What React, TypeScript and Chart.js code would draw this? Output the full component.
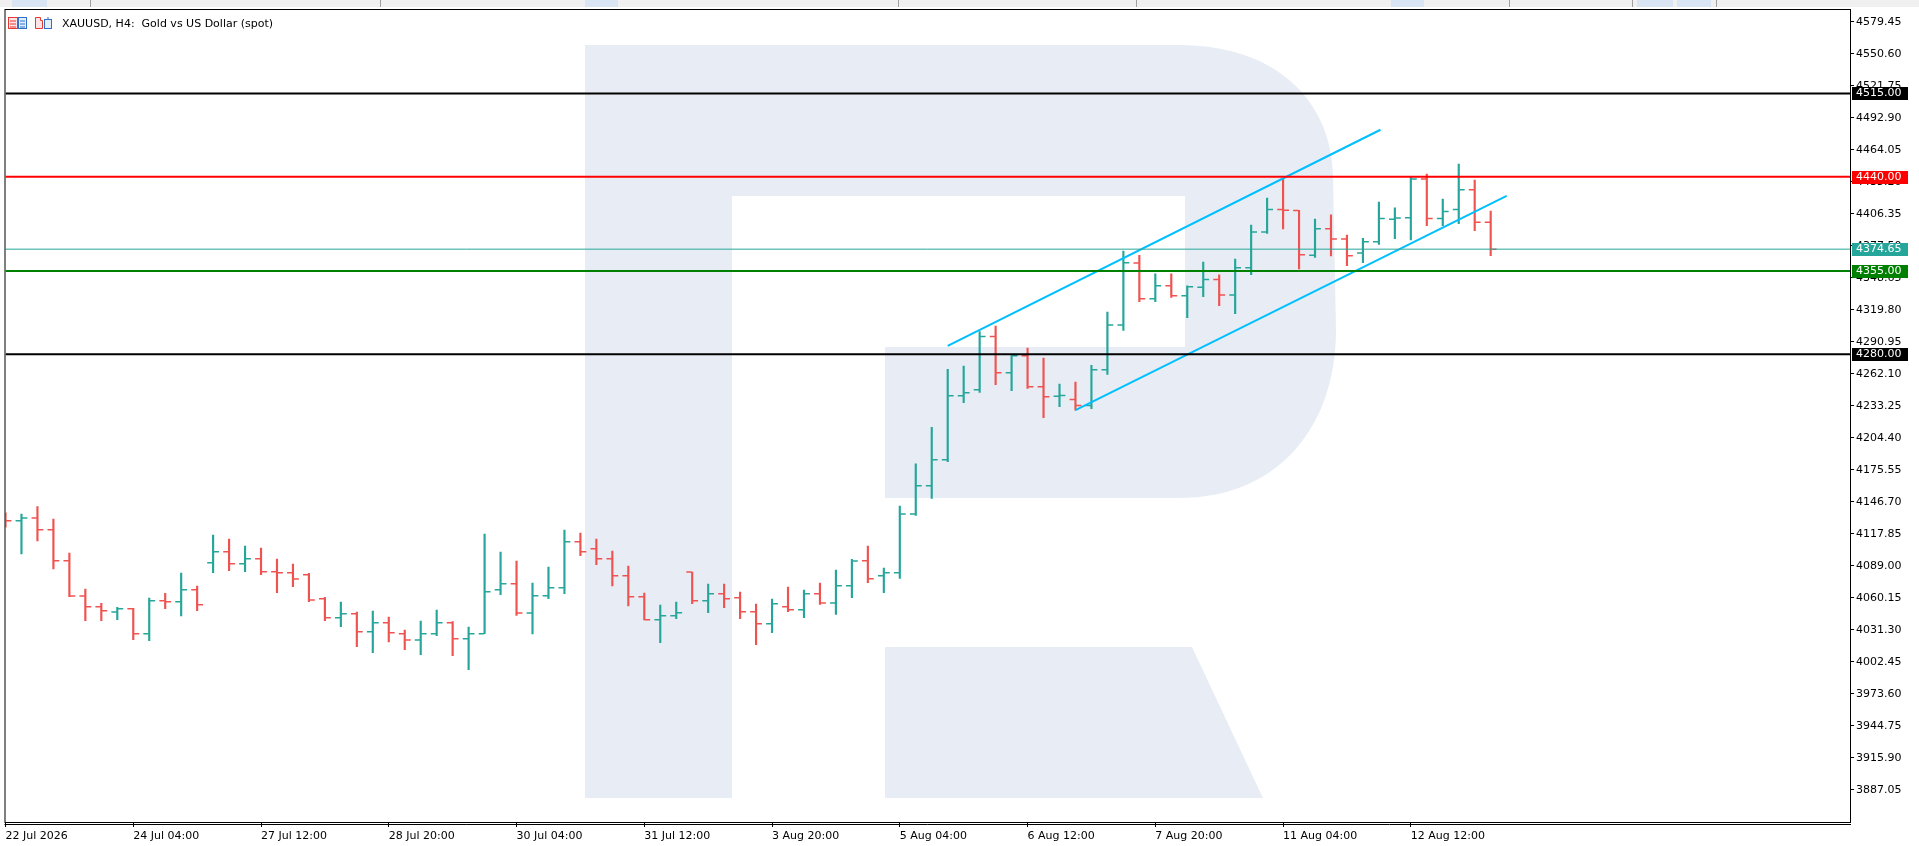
import { useEffect, useRef } from 'react';
import { Chart, registerables } from 'chart.js';

Chart.register(...registerables);

// XAUUSD H4 bars, from 22 Jul 2026 20:00 to 12 Aug 2026
const opens = [
  4133.0, 4129.9, 4132.3, 4121.7, 4093.8, 4061.9, 4052.3, 4047.5, 4050.5, 4028.0,
  4057.7, 4056.8, 4067.6, 4092.0, 4101.9, 4091.1, 4095.6, 4083.9, 4083.0, 4081.2,
  4059.5, 4042.4, 4046.0, 4029.8, 4037.9, 4028.0, 4022.3, 4028.0, 4037.9, 4023.5,
  4028.0, 4067.6, 4073.1, 4046.6, 4062.2, 4069.5, 4110.9, 4104.6, 4095.6, 4080.3,
  4061.3, 4040.6, 4044.2, 4083.6, 4057.7, 4064.0, 4060.4, 4047.8, 4037.0, 4052.3,
  4049.6, 4064.0, 4055.6, 4071.3, 4093.8, 4080.3, 4083.0, 4135.9, 4161.4, 4184.9,
  4242.6, 4248.0, 4295.8, 4263.3, 4278.6, 4250.7, 4242.0, 4239.0, 4233.6, 4266.0,
  4306.3, 4362.2, 4330.0, 4341.7, 4332.7, 4340.2, 4347.2, 4333.3, 4358.0, 4390.1,
  4410.3, 4409.4, 4369.1, 4393.1, 4383.8, 4371.2, 4381.4, 4401.6, 4403.0, 4437.9,
  4402.2, 4410.3, 4428.3, 4398.8,
];
const highs = [
  4137.0, 4135.9, 4142.5, 4131.4, 4100.7, 4068.3, 4055.3, 4051.7, 4050.8, 4060.1,
  4064.3, 4082.7, 4071.0, 4116.9, 4113.3, 4107.0, 4105.2, 4095.3, 4090.8, 4082.4,
  4060.7, 4056.5, 4047.5, 4048.4, 4043.0, 4031.3, 4039.4, 4049.3, 4038.8, 4034.0,
  4117.8, 4101.6, 4093.5, 4073.7, 4088.1, 4121.4, 4118.7, 4113.3, 4102.5, 4089.0,
  4064.6, 4053.8, 4056.5, 4083.6, 4072.8, 4072.8, 4065.5, 4054.7, 4059.2, 4070.1,
  4067.4, 4073.7, 4085.4, 4095.0, 4107.0, 4087.2, 4143.1, 4181.0, 4214.0, 4266.3,
  4269.3, 4300.3, 4305.4, 4278.6, 4285.5, 4276.5, 4253.1, 4254.9, 4269.9, 4318.0,
  4373.0, 4369.1, 4352.3, 4352.3, 4341.7, 4363.1, 4351.4, 4365.8, 4396.4, 4420.8,
  4438.5, 4409.7, 4401.8, 4405.5, 4387.4, 4384.4, 4417.2, 4411.8, 4439.4, 4442.4,
  4419.9, 4451.4, 4437.0, 4409.0,
];
const lows = [
  4124.0, 4099.8, 4111.5, 4086.3, 4061.3, 4039.7, 4039.7, 4040.6, 4022.6, 4021.7,
  4050.5, 4043.9, 4048.7, 4083.0, 4084.8, 4083.9, 4081.2, 4064.9, 4070.4, 4056.8,
  4039.7, 4034.3, 4016.3, 4010.9, 4020.5, 4013.6, 4009.1, 4026.2, 4008.2, 3995.5,
  4028.0, 4063.1, 4044.5, 4027.7, 4059.5, 4064.0, 4098.3, 4090.2, 4071.0, 4052.9,
  4040.3, 4019.9, 4041.5, 4055.0, 4046.9, 4051.4, 4041.5, 4018.1, 4028.9, 4047.8,
  4042.4, 4054.4, 4045.4, 4060.4, 4074.0, 4065.0, 4077.9, 4134.7, 4150.0, 4183.1,
  4236.3, 4245.6, 4252.5, 4247.1, 4249.2, 4222.7, 4232.6, 4229.6, 4230.9, 4261.8,
  4301.5, 4327.3, 4327.3, 4331.2, 4312.9, 4331.8, 4323.7, 4316.5, 4351.6, 4388.9,
  4392.8, 4356.8, 4367.3, 4368.5, 4359.8, 4362.5, 4379.0, 4384.1, 4382.9, 4395.8,
  4395.8, 4397.6, 4391.3, 4368.8,
];
const closes = [
  4129.9, 4132.3, 4121.7, 4093.8, 4061.9, 4052.3, 4048.7, 4050.5, 4028.0, 4057.7,
  4056.8, 4067.6, 4054.1, 4101.9, 4091.1, 4095.6, 4083.9, 4083.0, 4077.3, 4058.3,
  4042.4, 4046.0, 4029.8, 4037.9, 4028.9, 4022.3, 4028.0, 4037.9, 4023.5, 4028.0,
  4065.8, 4073.1, 4046.6, 4062.2, 4069.5, 4110.9, 4101.9, 4095.6, 4080.3, 4061.3,
  4040.6, 4044.2, 4046.9, 4057.7, 4064.0, 4059.5, 4047.8, 4037.0, 4055.0, 4049.6,
  4064.0, 4055.6, 4071.3, 4093.5, 4077.6, 4083.0, 4135.9, 4161.4, 4184.9, 4242.6,
  4245.3, 4295.8, 4263.3, 4278.6, 4250.7, 4241.7, 4242.8, 4233.6, 4266.0, 4306.3,
  4362.5, 4330.0, 4341.7, 4332.7, 4340.8, 4347.2, 4333.3, 4358.0, 4390.1, 4410.3,
  4409.7, 4369.7, 4393.1, 4383.8, 4368.8, 4381.4, 4402.2, 4402.8, 4437.9, 4402.2,
  4408.5, 4428.3, 4398.8, 4374.65,
];

// time axis labels, placed on bar indexes
const xTickBars = [0, 8, 16, 24, 32, 40, 48, 56, 64, 72, 80, 88];
const xTickLabels = [
  '22 Jul 2026', '24 Jul 04:00', '27 Jul 12:00', '28 Jul 20:00', '30 Jul 04:00', '31 Jul 12:00',
  '3 Aug 20:00', '5 Aug 04:00', '6 Aug 12:00', '7 Aug 20:00', '11 Aug 04:00', '12 Aug 12:00',
];

const yTicks = [
  4579.45, 4550.6, 4521.75, 4492.9, 4464.05, 4435.2, 4406.35, 4377.5, 4348.65, 4319.8,
  4290.95, 4262.1, 4233.25, 4204.4, 4175.55, 4146.7, 4117.85, 4089.0, 4060.15, 4031.3,
  4002.45, 3973.6, 3944.75, 3915.9, 3887.05,
];

// horizontal levels
const levelPrices = [4515, 4440, 4374.65, 4355, 4280];
const levelColors = ['#000000', '#ff0000', '#26a69a', '#008000', '#000000'];
const levelWidths = [2, 2, 1, 2, 2];

// ascending channel (bar index, price)
const upperChannelX = [59.0, 86.1];
const upperChannelY = [4287.4, 4482.3];
const lowerChannelX = [67.0, 94.0];
const lowerChannelY = [4229.6, 4422.6];

const UP = '#26a69a';
const DOWN = '#ef5350';
const X_MAX = 115.5;
const Y_MIN = 3858.2;
const Y_MAX = 4591.17;

Chart.defaults.font.family = '"DejaVu Sans", sans-serif';
Chart.defaults.font.size = 11;
Chart.defaults.color = '#000';

const barColors = closes.map((c, i) => (c >= opens[i] ? UP : DOWN));

const framePlugin = {
  id: 'frame',
  afterDraw(chart: any) {
    const { ctx, chartArea: a, scales } = chart;
    ctx.save();
    ctx.strokeStyle = '#000';
    ctx.lineWidth = 1;
    ctx.strokeRect(a.left - 0.5, a.top + 0.5, a.right - a.left + 1, a.bottom - a.top);
    ctx.beginPath();
    ctx.moveTo(a.left - 1, a.bottom + 2.5);
    ctx.lineTo(a.right + 1, a.bottom + 2.5);
    ctx.stroke();

    // price labels on the axis
    ctx.font = '11px "DejaVu Sans"';
    ctx.textBaseline = 'middle';
    ctx.textAlign = 'left';
    levelPrices.forEach((p, i) => {
      const y = scales.y.getPixelForValue(p);
      ctx.fillStyle = levelColors[i];
      ctx.fillRect(a.right + 2, Math.round(y) - 6, 56, 13);
      ctx.fillStyle = '#fff';
      ctx.fillText(p.toFixed(2), a.right + 6, Math.round(y) + 0.5);
    });
    ctx.restore();
  },
};

function Watermark() {
  return (
    <svg width={1919} height={846} style={{ position: 'absolute', left: 0, top: 0 }}>
      <path
        d="M585 45 L1180 45 C1275 45 1331 100 1333 175 L1336 330 C1336 430 1275 498 1180 498 L885 498 L885 347 L1185 347 L1185 196 L732 196 L732 798 L585 798 Z"
        fill="#e8edf5"
      />
      <path d="M885 647 L1192 647 L1263 798 L885 798 Z" fill="#e8edf5" />
    </svg>
  );
}

function TopStrip() {
  const tabs = [[12, 35], [585, 33], [1391, 33], [1637, 36], [1677, 34]];
  const seps = [90, 380, 898, 1136, 1509, 1632, 1716];
  return (
    <div style={{ position: 'absolute', left: 0, top: 0, width: 1919, height: 7, background: '#f0f0f0' }}>
      {tabs.map(([x, w]) => (
        <div key={'t' + x} style={{ position: 'absolute', left: x, top: 0, width: w, height: 7, background: '#dae5f3' }} />
      ))}
      {seps.map((x) => (
        <div key={'s' + x} style={{ position: 'absolute', left: x, top: 0, width: 1, height: 7, background: '#a0a0a0' }} />
      ))}
    </div>
  );
}

function TitleBar() {
  return (
    <>
      <svg width={50} height={16} style={{ position: 'absolute', left: 6, top: 15 }}>
        <rect x={2.5} y={2.5} width={9} height={11} fill="#fde3e3" stroke="#e53935" />
        <line x1={4} y1={6} x2={10} y2={6} stroke="#e53935" />
        <line x1={4} y1={9} x2={10} y2={9} stroke="#e53935" />
        <line x1={4} y1={12} x2={10} y2={12} stroke="#e53935" />
        <rect x={12.5} y={2.5} width={8} height={11} fill="#e3eefc" stroke="#2f6fc9" />
        <line x1={14} y1={6} x2={19} y2={6} stroke="#2f6fc9" />
        <line x1={14} y1={9} x2={19} y2={9} stroke="#2f6fc9" />
        <line x1={14} y1={12} x2={19} y2={12} stroke="#2f6fc9" />
        <path d="M29.5 2.5 L34.5 2.5 L34.5 5.5 L36.5 5.5 L36.5 13.5 L29.5 13.5 Z" fill="#fde3e3" stroke="#e53935" />
        <rect x={38.5} y={4.5} width={7} height={9} fill="#e3eefc" stroke="#2f6fc9" />
        <line x1={42} y1={2} x2={42} y2={4} stroke="#2f6fc9" />
      </svg>
      <div
        style={{
          position: 'absolute',
          left: 62,
          top: 17,
          font: '11px "DejaVu Sans", sans-serif',
          lineHeight: '13px',
          color: '#000',
          whiteSpace: 'pre',
        }}
      >
        {'XAUUSD, H4:  Gold vs US Dollar (spot)'}
      </div>
    </>
  );
}

export default function App() {
  const canvasRef = useRef<HTMLCanvasElement>(null);
  const chartInstance = useRef<Chart | null>(null);

  useEffect(() => {
    if (!canvasRef.current) return;
    if (chartInstance.current) chartInstance.current.destroy();

    const levelSets: any[] = levelPrices.map((p, i) => ({
      type: 'line',
      data: [
        { x: 0, y: p },
        { x: X_MAX, y: p },
      ],
      borderColor: levelColors[i],
      borderWidth: levelWidths[i],
      pointRadius: 0,
    }));

    const channelSets: any[] = [
      [upperChannelX, upperChannelY],
      [lowerChannelX, lowerChannelY],
    ].map(([xs, ys]) => ({
      type: 'line',
      data: xs.map((x, i) => ({ x, y: ys[i] })),
      borderColor: '#00bfff',
      borderWidth: 2,
      pointRadius: 0,
    }));

    chartInstance.current = new Chart(canvasRef.current, {
      type: 'bar',
      data: {
        datasets: [
          ...levelSets,
          ...channelSets,
          {
            type: 'scatter',
            data: opens.map((o, i) => ({ x: i - 0.2, y: o })),
            pointStyle: 'line',
            pointRadius: 2.7,
            pointBorderWidth: 1.5,
            pointBorderColor: barColors,
            pointBackgroundColor: barColors,
          },
          {
            type: 'scatter',
            data: closes.map((c, i) => ({ x: i + 0.2, y: c })),
            pointStyle: 'line',
            pointRadius: 2.7,
            pointBorderWidth: 1.5,
            pointBorderColor: barColors,
            pointBackgroundColor: barColors,
          },
          {
            type: 'bar',
            data: highs.map((h, i) => ({ x: i, y: [lows[i], h] })),
            backgroundColor: barColors,
            borderWidth: 0,
            barThickness: 1.5,
          },
        ] as any,
      },
      options: {
        responsive: false,
        animation: false,
        layout: { padding: { left: 2, top: 9, right: 0, bottom: 0 } },
        plugins: {
          legend: { display: false },
          tooltip: { enabled: false },
        },
        scales: {
          x: {
            type: 'linear',
            min: 0,
            max: X_MAX,
            offset: false,
            grid: {
              display: true,
              offset: false,
              drawOnChartArea: false,
              drawTicks: true,
              tickLength: 5,
              color: '#000',
            },
            border: { display: true, color: '#000' },
            ticks: {
              autoSkip: false,
              maxRotation: 0,
              align: 'start',
              padding: 3,
              color: '#000',
              callback: (v: any) => xTickLabels[xTickBars.indexOf(Number(v))] ?? '',
            },
            afterBuildTicks: (s: any) => {
              s.ticks = xTickBars.map((v) => ({ value: v }));
            },
            afterFit: (s: any) => {
              s.height = 24;
            },
          },
          y: {
            type: 'linear',
            position: 'right',
            min: Y_MIN,
            max: Y_MAX,
            grid: {
              display: true,
              drawOnChartArea: false,
              drawTicks: true,
              tickLength: 4,
              color: '#000',
            },
            border: { display: true, color: '#000' },
            ticks: {
              autoSkip: false,
              padding: 2,
              color: '#000',
              callback: (v: any) => Number(v).toFixed(2),
            },
            afterBuildTicks: (s: any) => {
              s.ticks = yTicks.map((v) => ({ value: v }));
            },
            afterFit: (s: any) => {
              s.width = 69;
            },
          },
        },
      } as any,
      plugins: [framePlugin],
    });

    return () => {
      if (chartInstance.current) {
        chartInstance.current.destroy();
        chartInstance.current = null;
      }
    };
  }, []);

  return (
    <div
      style={{
        position: 'absolute',
        left: 0,
        top: 0,
        width: 1919,
        height: 846,
        background: '#fff',
        overflow: 'hidden',
      }}
    >
      <Watermark />
      <TopStrip />
      <canvas ref={canvasRef} width={1919} height={846} style={{ position: 'absolute', left: 0, top: 0 }} />
      <TitleBar />
    </div>
  );
}
